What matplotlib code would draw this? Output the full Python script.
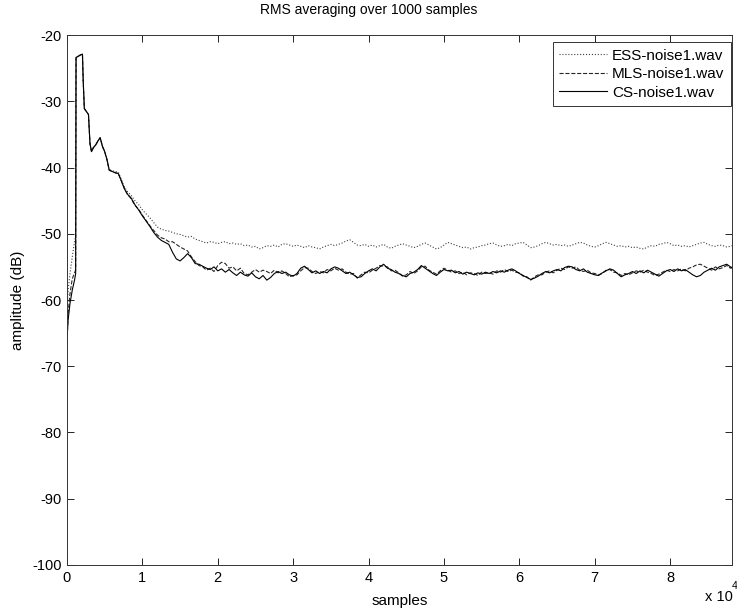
import matplotlib
matplotlib.use("Agg")
import matplotlib.pyplot as plt

# ── Data ─────────────────────────────────────────────────────────────────────

# sample positions: denser at the onset, then every 500 samples
x_early = [0, 150, 400, 700, 1000, 1150, 1200, 1500, 1800, 2050, 2150, 2300,
           2550, 2850, 3050, 3250, 3500, 3800, 4100, 4400, 4700, 5000, 5300,
           5600, 6000, 6400, 6800, 7200, 7600, 8000, 8500, 9000, 9500, 10000,
           10500, 11000, 11500]
x_tail = list(range(12000, 88001, 500)) + [88200]
samples = x_early + x_tail

ess_early = [-61.0, -58.5, -56.0, -53.5, -51.2, -50.3, -23.4, -23.2, -23.0,
             -22.9, -26.9, -31.1, -31.5, -32.0, -36.4, -37.6, -37.0, -36.6,
             -36.0, -35.5, -36.8, -37.6, -38.7, -40.3, -40.5, -40.6, -40.7,
             -41.8, -42.9, -43.6, -44.2, -45.0, -45.6, -46.4, -47.0, -47.6,
             -48.3]
mls_early = [-66.5, -62.0, -59.0, -56.8, -55.9, -55.5, -23.4, -23.2, -23.0,
             -22.9, -26.9, -31.1, -31.5, -32.0, -36.4, -37.6, -37.0, -36.6,
             -36.0, -35.5, -36.8, -37.6, -38.8, -40.4, -40.6, -40.8, -40.9,
             -42.0, -43.1, -44.0, -44.7, -45.7, -46.3, -47.2, -48.0, -48.8,
             -49.5]
cs_early = [-66.0, -63.0, -60.5, -58.5, -57.0, -56.0, -23.4, -23.2, -23.0,
            -22.9, -26.9, -31.1, -31.5, -32.0, -36.4, -37.6, -37.0, -36.6,
            -36.0, -35.5, -36.8, -37.6, -38.8, -40.4, -40.6, -40.8, -40.9,
            -42.0, -43.2, -44.0, -44.6, -45.6, -46.4, -47.3, -48.1, -48.9,
            -49.8]

ess_tail = [
    # 12000 - 30000
    -49.0, -49.3, -49.5, -49.6, -49.8, -50.0, -50.1, -50.3, -50.5, -50.4,
    -50.8, -51.0, -51.2, -51.4, -51.2, -51.3, -51.5, -51.3, -51.2, -51.5,
    -51.4, -51.6, -51.5, -51.8, -51.7, -52.0, -51.9, -52.3, -52.1, -51.8,
    -51.9, -51.7, -52.0, -51.6, -51.5, -51.7, -51.9,
    # 30500 - 48000
    -51.7, -51.9, -52.1, -51.8, -52.0, -52.1, -52.3, -52.0, -51.8, -51.6,
    -51.8, -51.6, -51.4, -51.1, -50.9, -51.3, -51.7, -51.8, -51.6, -51.9,
    -51.7, -52.0, -51.8, -51.6, -52.0, -52.2, -51.9, -51.7, -51.5, -51.7,
    -51.9, -52.1, -51.9, -51.6, -51.4, -51.7,
    # 48500 - 66500
    -52.0, -52.3, -52.1, -51.7, -51.3, -51.5, -51.7, -51.9, -52.1, -52.0,
    -52.3, -52.1, -52.0, -51.8, -51.7, -51.5, -51.4, -51.7, -51.9, -51.8,
    -51.6, -51.8, -51.5, -51.4, -51.3, -51.7, -52.1, -52.0, -51.8, -51.5,
    -51.3, -51.5, -51.7, -51.6, -51.8, -51.7, -51.9,
    # 67000 - 88200
    -51.7, -51.5, -51.3, -51.4, -51.7, -51.9, -52.0, -51.8, -51.5, -51.3,
    -51.5, -51.7, -51.9, -51.8, -52.0, -51.9, -52.1, -52.0, -52.2, -52.3,
    -52.0, -51.8, -51.9, -51.6, -51.5, -51.3, -51.5, -51.8, -51.7, -51.9,
    -51.8, -52.0, -51.8, -51.6, -51.4, -51.3, -51.6, -51.8, -51.9, -51.7,
    -51.8, -52.0, -51.9, -51.8,
]

mls_tail = [
    -50.2, -50.6, -50.8, -51.2, -51.2, -51.6, -52.0, -52.3, -52.6, -53.5,
    -54.2, -54.8, -55.0, -55.5, -55.2, -55.7, -54.8, -54.3, -54.5, -55.2,
    -55.0, -55.6, -55.2, -56.0, -56.2, -55.8, -55.4, -55.8, -55.5, -55.7,
    -56.0, -55.5, -55.9, -55.6, -56.0, -56.5, -56.3,
    -56.2, -55.6, -55.1, -55.2, -55.7, -56.0, -55.7, -55.9, -55.4, -55.6,
    -55.2, -55.5, -55.3, -55.8, -56.1, -56.0, -56.7, -56.2, -55.8, -55.9,
    -55.5, -55.2, -54.8, -54.9, -55.0, -55.6, -55.5, -55.9, -56.4, -56.2,
    -55.7, -56.0, -55.6, -55.0, -54.9, -55.5,
    -55.8, -56.1, -55.6, -55.2, -55.5, -55.8, -55.6, -56.0, -55.8, -56.2,
    -55.9, -56.0, -56.3, -55.8, -56.0, -55.9, -56.1, -55.6, -55.8, -55.4,
    -55.7, -55.5, -55.8, -55.9, -56.4, -56.5, -57.0, -56.5, -56.2, -56.2,
    -55.8, -55.6, -55.9, -55.5, -55.2, -55.4, -55.0,
    -55.2, -55.0, -55.5, -55.7, -55.5, -55.9, -56.0, -56.2, -56.0, -55.5,
    -55.4, -55.8, -55.9, -56.3, -56.0, -56.2, -55.9, -55.6, -55.8, -55.5,
    -55.8, -56.0, -56.3, -56.1, -55.8, -55.5, -55.7, -55.4, -55.6, -55.3,
    -55.6, -55.2, -55.0, -54.7, -54.6, -54.9, -55.2, -55.5, -55.0, -55.3,
    -55.1, -54.8, -55.2, -55.0,
]

cs_tail = [
    -50.5, -51.0, -51.3, -51.6, -52.8, -53.8, -54.1, -53.6, -53.0, -53.6,
    -54.5, -54.6, -54.9, -55.2, -55.4, -55.0, -55.6, -55.3, -55.8, -55.4,
    -55.9, -56.3, -55.8, -56.2, -56.4, -55.9, -56.5, -56.8, -56.3, -57.0,
    -56.6, -56.0, -55.7, -56.0, -55.8, -56.2, -56.4,
    -56.0, -55.2, -54.9, -55.4, -55.9, -55.6, -56.0, -55.7, -55.9, -55.3,
    -55.0, -55.2, -55.6, -56.0, -55.8, -56.2, -56.6, -56.5, -56.0, -55.6,
    -55.3, -55.6, -55.0, -54.6, -55.2, -55.4, -55.8, -56.0, -56.3, -56.5,
    -56.0, -55.8, -55.4, -54.8, -55.2, -55.6,
    -56.0, -56.3, -55.8, -55.4, -55.6, -55.5, -55.9, -55.7, -56.1, -55.8,
    -56.0, -56.2, -55.9, -56.1, -55.8, -56.0, -55.7, -55.9, -55.6, -55.8,
    -55.5, -55.3, -55.6, -56.0, -56.3, -56.6, -56.9, -56.7, -56.4, -56.0,
    -55.7, -55.9, -55.6, -55.4, -55.6, -55.1, -54.9,
    -55.0, -55.4, -55.6, -55.3, -55.8, -56.0, -56.2, -56.3, -55.9, -55.6,
    -55.3, -55.5, -56.0, -56.5, -56.2, -56.0, -55.7, -56.0, -55.6, -55.9,
    -55.5, -55.8, -56.1, -56.4, -56.0, -55.6, -55.4, -55.7, -55.3, -55.6,
    -55.4, -55.8, -56.2, -56.5, -56.3, -55.8, -55.5, -55.2, -55.5, -55.0,
    -54.8, -54.6, -55.0, -55.2,
]

ess = ess_early + ess_tail
mls = mls_early + mls_tail
cs = cs_early + cs_tail

labels = ["ESS-noise1.wav", "MLS-noise1.wav", "CS-noise1.wav"]
x_ticks = [0, 10000, 20000, 30000, 40000, 50000, 60000, 70000, 80000]
x_ticklabels = ["0", "1", "2", "3", "4", "5", "6", "7", "8"]
y_ticks = [-100, -90, -80, -70, -60, -50, -40, -30, -20]

# ── Figure ───────────────────────────────────────────────────────────────────

plt.rcParams["font.family"] = ["Liberation Sans", "DejaVu Sans"]
plt.rcParams["font.size"] = 10
plt.rcParams["axes.unicode_minus"] = False

fig = plt.figure(figsize=(7.37, 6.11), dpi=100)
ax = fig.add_axes([0.0909, 0.0753, 0.9023, 0.8674])

ax.plot(samples, ess, ls=":", color="0.25", lw=0.8, label=labels[0])
ax.plot(samples, mls, ls="--", color="0.15", lw=0.8, label=labels[1])
ax.plot(samples, cs, ls="-", color="black", lw=0.8, label=labels[2])

ax.set_xlim(0, 88200)
ax.set_ylim(-100, -20)
ax.set_xticks(x_ticks)
ax.set_xticklabels(x_ticklabels)
ax.set_yticks(y_ticks)
ax.tick_params(direction="in", top=True, right=True, length=5, width=0.6,
               labelsize=10.5, pad=4, colors="black")
for sp in ax.spines.values():
    sp.set_linewidth(0.7)
    sp.set_color("0.2")

# title sits at the figure centre in the reference, not the axes centre
fig.text(0.5, 1 - 10 / 611, "RMS averaging over 1000 samples", fontsize=10,
         ha="center", va="center")
ax.set_xlabel("samples", fontsize=11, labelpad=7)
ax.set_ylabel("amplitude (dB)", fontsize=11, labelpad=5)

fig.text(0.957, 0.012, "x 10", fontsize=10.5, ha="left", va="bottom")
fig.text(0.993, 0.033, "4", fontsize=7.5, ha="left", va="bottom")

leg = ax.legend(loc="upper right", bbox_to_anchor=(0.998, 0.986),
                borderaxespad=0, fancybox=False, framealpha=1,
                edgecolor="0.2", handlelength=3.1, handletextpad=0.35,
                labelspacing=0.3, borderpad=0.4, fontsize=11)
leg.get_frame().set_linewidth(0.7)

fig.savefig("out.png", dpi=100, facecolor="white")
